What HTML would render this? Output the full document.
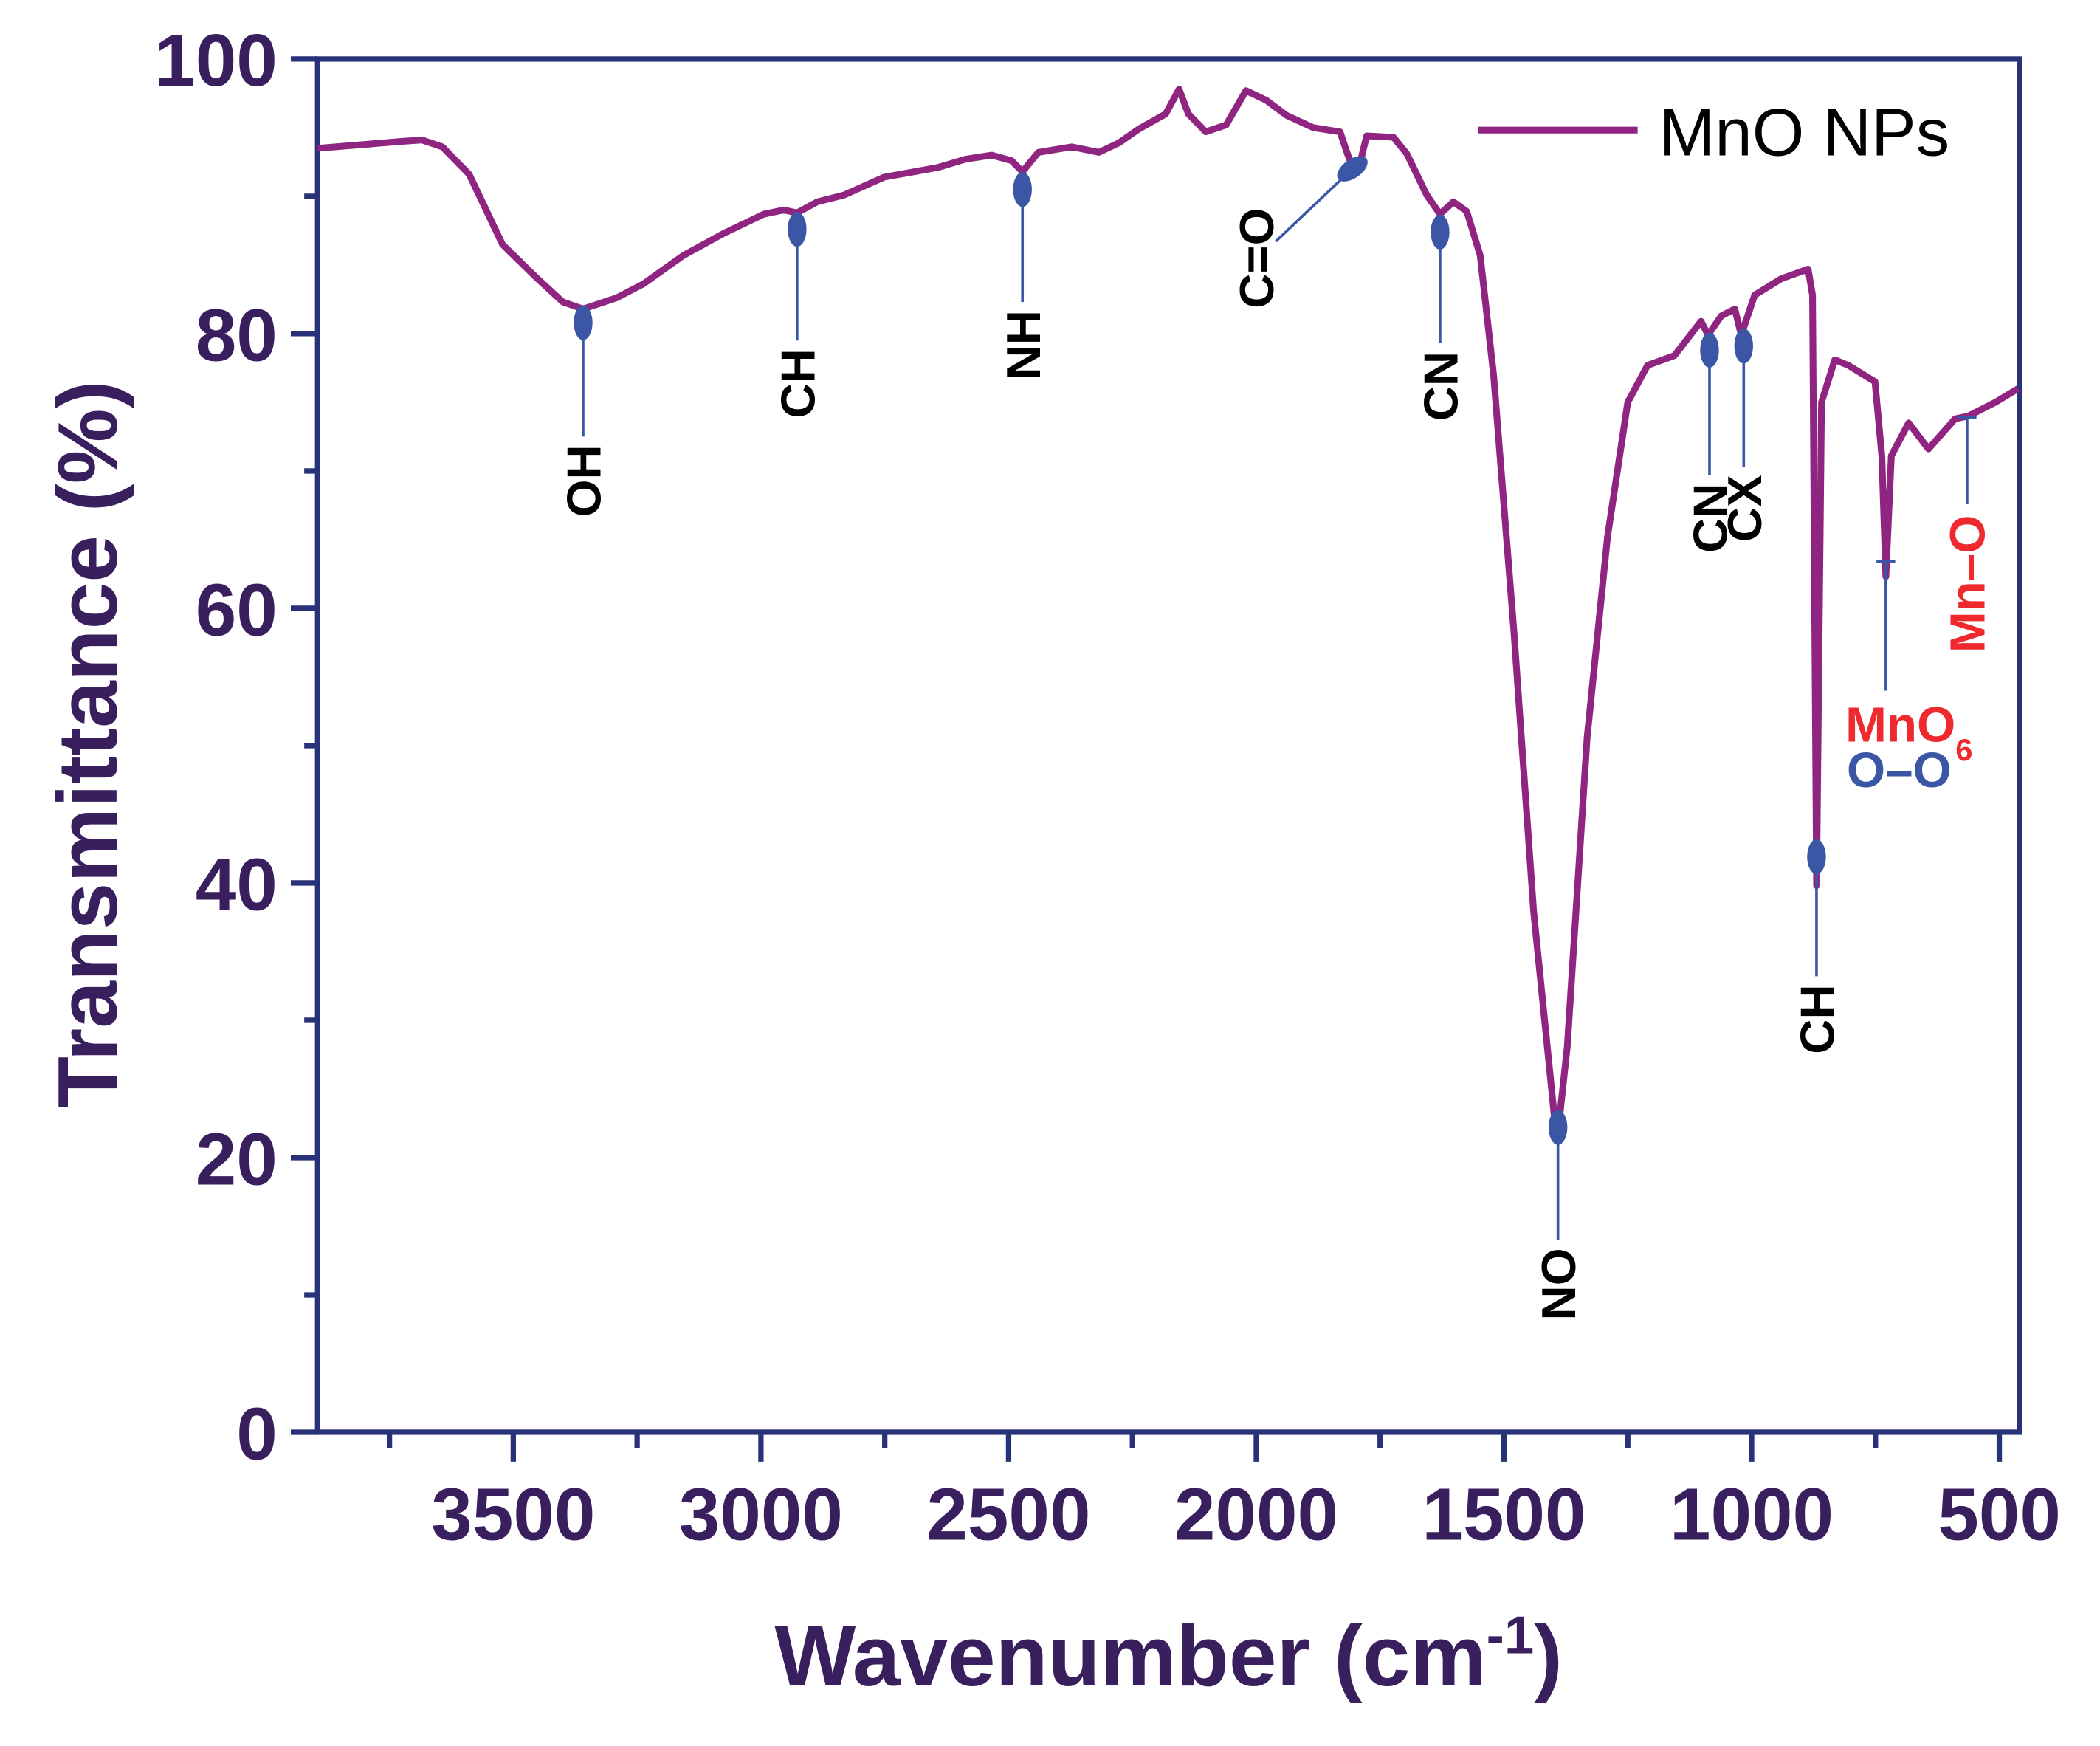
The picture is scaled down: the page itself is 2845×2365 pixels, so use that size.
<!DOCTYPE html>
<html><head><meta charset="utf-8"><style>
html,body{margin:0;padding:0;background:#fff;}
svg{display:block;}
text{font-family:"Liberation Sans",Arial,sans-serif;font-weight:bold;}
</style></head><body>
<svg id="chart" width="2845" height="2365" viewBox="0 0 1567 1302" preserveAspectRatio="none" xmlns="http://www.w3.org/2000/svg">
<g id="plot"></g>
</svg>
<script>
// ---- data ----
const wavenumbers = [3895,3724,3684,3643,3589,3522,3454,3400,3359,3292,3238,3156,3075,2994,2954,2927,2886,2832,2751,2643,2588,2534,2494,2472,2440,2372,2318,2277,2237,2183,2156,2137,2102,2061,2021,1980,1939,1885,1831,1815,1804,1790,1777,1723,1696,1656,1629,1602,1575,1548,1521,1480,1440,1399,1391,1372,1332,1291,1250,1210,1156,1102,1088,1061,1034,1021,994,940,886,877,869,859,832,805,751,737,729,718,683,643,589,562,508,462];
const transmittance = [93.5,94.0,94.1,93.6,91.6,86.5,84.1,82.3,81.8,82.6,83.6,85.7,87.3,88.7,89.0,88.8,89.6,90.1,91.4,92.1,92.7,93.0,92.6,91.8,93.2,93.6,93.2,93.9,94.9,96.0,97.8,96.0,94.7,95.2,97.7,97.0,95.9,95.0,94.7,93.0,92.0,92.5,94.4,94.3,93.1,90.1,88.7,89.6,88.9,85.7,77.0,58.4,37.9,23.2,21.8,28.1,50.6,65.2,75.0,77.7,78.4,80.9,79.9,81.3,81.8,79.9,82.8,84.0,84.7,82.8,39.8,75.0,78.1,77.7,76.5,71.1,62.3,71.1,73.5,71.6,73.8,74.0,75.0,76.0];
const xTickValues = [3500,3000,2500,2000,1500,1000,500];
const xMinorValues = [3750,3250,2750,2250,1750,1250,750];
const yTickValues = [0,20,40,60,80,100];
const yMinorValues = [10,30,50,70,90];
// peak annotations: wavenumber, marker T, line end T, label
const peakWn = [3359,2927,2472,1629,1391,1085,1016,869];
const peakT = [80.8,87.6,90.5,87.4,22.2,78.8,79.1,41.9];
const peakLineEndT = [72.5,79.5,82.3,79.3,14,69.7,70.3,33.2];
const peakLabels = ["OH","CH","NH","CN","NO","CN","CX","CH"];

// ---- axes ----
const L=237,R=1507,T=44,B=1068;
const X0=3895,X1=459;
const xs=v=>L+(X0-v)/(X0-X1)*(R-L);
const ys=v=>B-v/100*(B-T);
const NS="http://www.w3.org/2000/svg";
const g=document.getElementById('plot');
function mk(tag,attrs,parent){const e=document.createElementNS(NS,tag);for(const k in attrs)e.setAttribute(k,attrs[k]);(parent||g).appendChild(e);return e;}
const axisCol="#283278", tickCol="#3a1f5e", lineCol="#8f2580", mk_col="#3a56a5";

let fr=mk('rect',{x:L,y:T,width:R-L,height:B-T,fill:'none',stroke:axisCol,'stroke-width':4});



xTickValues.forEach(v=>{
  let t=mk('line',{x1:xs(v),x2:xs(v),y1:B,y2:B+22,stroke:axisCol,'stroke-width':4});
  
  
  let l=mk('text',{x:xs(v),y:B+80,'text-anchor':'middle','font-size':55,fill:tickCol});
  
  
  l.textContent=v;
});
xMinorValues.forEach(v=>{
  let t=mk('line',{x1:xs(v),x2:xs(v),y1:B,y2:B+12,stroke:axisCol,'stroke-width':4});
  
  
});
yTickValues.forEach(v=>{
  let t=mk('line',{x1:L-20,x2:L,y1:ys(v),y2:ys(v),stroke:axisCol,'stroke-width':4});
  
  
  let l=mk('text',{x:L-30,y:ys(v)+20,'text-anchor':'end','font-size':55,fill:tickCol});
  
  
  l.textContent=v;
});
yMinorValues.forEach(v=>{
  let t=mk('line',{x1:L-10,x2:L,y1:ys(v),y2:ys(v),stroke:axisCol,'stroke-width':4});
  
  
});

let xt=mk('text',{x:872,y:1257,'text-anchor':'middle','font-size':64,fill:tickCol});


xt.innerHTML='Wavenumber (cm<tspan dy="-24" font-size="40">-1</tspan><tspan dy="24">)</tspan>';
let yt=mk('text',{x:0,y:0,'text-anchor':'middle','font-size':63,fill:tickCol,transform:'translate(87,555) rotate(-90)'});


yt.textContent='Transmittance (%)';

let d=wavenumbers.map((w,i)=>(i?'L':'M')+xs(w).toFixed(1)+','+ys(transmittance[i]).toFixed(1)).join(' ');
let p=mk('path',{d:d,fill:'none',stroke:lineCol,'stroke-width':5,'stroke-linejoin':'round'});



peakWn.forEach((w,i)=>{
  const x=xs(w);
  let ln=mk('line',{x1:x,x2:x,y1:ys(peakT[i]),y2:ys(peakLineEndT[i]),stroke:mk_col,'stroke-width':2});
  
  
  let el=mk('ellipse',{cx:x,cy:ys(peakT[i]),rx:7,ry:13,fill:mk_col});
  
  
  const yl=ys(peakLineEndT[i])+6;
  let tx=mk('text',{x:0,y:0,'text-anchor':'end','font-size':36,fill:'#000',transform:`translate(${x+13},${yl}) rotate(-90)`});
  
  
  tx.textContent=peakLabels[i];
});
const coW=1806, coT=92.0;
let col=mk('line',{x1:xs(coW),y1:ys(coT),x2:952,y2:180,stroke:mk_col,'stroke-width':2});


let coe=mk('ellipse',{cx:xs(coW),cy:ys(coT),rx:7,ry:13,fill:mk_col,transform:`rotate(55 ${xs(coW)} ${ys(coT)})`});


let cot=mk('text',{x:0,y:0,'text-anchor':'end','font-size':36,fill:'#000',transform:'translate(950,155) rotate(-90)'});


cot.textContent='C=O';

const m6W=729, m6T=63.4;
let m6b=mk('line',{x1:xs(m6W)-7,x2:xs(m6W)+7,y1:ys(m6T),y2:ys(m6T),stroke:mk_col,'stroke-width':2});


let m6l=mk('line',{x1:xs(m6W),x2:xs(m6W),y1:ys(m6T),y2:515,stroke:mk_col,'stroke-width':2});


let m6t=mk('text',{x:1377,y:553,'font-size':37,fill:'#ee2a2f'});


m6t.innerHTML='MnO<tspan font-size="23" dy="14">6</tspan>';
let oot=mk('text',{x:1378,y:587,'font-size':37,fill:'#3a56a5'});


oot.textContent='O–O';

const moW=565, moT=73.9;
let mob=mk('line',{x1:xs(moW)-7,x2:xs(moW)+7,y1:ys(moT),y2:ys(moT),stroke:mk_col,'stroke-width':2});


let mol=mk('line',{x1:xs(moW),x2:xs(moW),y1:ys(moT),y2:376,stroke:mk_col,'stroke-width':2});


let mot=mk('text',{x:0,y:0,'text-anchor':'end','font-size':37,fill:'#ee2a2f',transform:`translate(${xs(moW)+13},384) rotate(-90)`});


mot.textContent='Mn–O';

let lgl=mk('line',{x1:1103,x2:1222,y1:97,y2:97,stroke:lineCol,'stroke-width':5});


let lgt=mk('text',{x:1238,y:116,'font-size':50,fill:'#000'});


lgt.style.fontWeight='normal';
lgt.textContent='MnO NPs';
</script>
</body></html>
